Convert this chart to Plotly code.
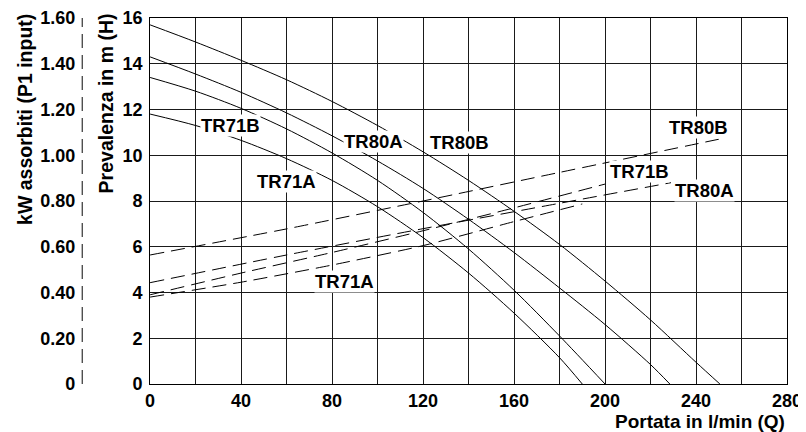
import plotly.graph_objects as go

# ---- Head curves H (m) vs Q (l/min)
q_tr71a = [0, 20, 40, 60, 80, 100, 120, 140, 160, 180, 190]
h_tr71a = [11.8, 11.3, 10.65, 9.85, 8.9, 7.75, 6.4, 4.85, 3.1, 1.15, 0]

q_tr71b = [0, 20, 40, 60, 80, 100, 120, 140, 160, 180, 200]
h_tr71b = [13.4, 12.8, 12.05, 11.15, 10.1, 8.9, 7.5, 5.9, 4.1, 2.1, 0]

q_tr80a = [0, 20, 40, 60, 80, 100, 120, 140, 160, 180, 200, 220, 228.5]
h_tr80a = [14.3, 13.55, 12.75, 11.85, 10.85, 9.75, 8.55, 7.2, 5.75, 4.2, 2.6, 0.85, 0]

q_tr80b = [0, 20, 40, 60, 80, 100, 120, 140, 160, 180, 200, 220, 240, 250.5]
h_tr80b = [15.7, 14.95, 14.15, 13.3, 12.35, 11.3, 10.15, 8.9, 7.55, 6.1, 4.5, 2.8, 0.95, 0]

# ---- Absorbed power kW (P1) vs Q
qp_tr80b = [0, 60, 120, 180, 250]
kw_tr80b = [0.564, 0.678, 0.80, 0.925, 1.07]
qp_tr80a = [0, 60, 120, 180, 229]
kw_tr80a = [0.443, 0.564, 0.679, 0.79, 0.88]
qp_tr71b = [0, 40, 80, 120, 160, 200]
kw_tr71b = [0.39, 0.485, 0.575, 0.67, 0.77, 0.874]
qp_tr71a = [0, 40, 80, 120, 160, 190]
kw_tr71a = [0.38, 0.445, 0.52, 0.605, 0.71, 0.787]

x_ticks = [0, 40, 80, 120, 160, 200, 240, 280]
h_ticks = [0, 2, 4, 6, 8, 10, 12, 14, 16]
kw_ticks = [0, 0.2, 0.4, 0.6, 0.8, 1.0, 1.2, 1.4, 1.6]
kw_ticktext = ["0", "0.20", "0.40", "0.60", "0.80", "1.00", "1.20", "1.40", "1.60"]

# labels: (text, Q, H)
labels = [
    ("TR71B", 35.4, 11.32),
    ("TR71A", 60.1, 8.84),
    ("TR80A", 98.0, 10.6),
    ("TR80B", 135.8, 10.54),
    ("TR71A", 85.6, 4.47),
    ("TR80B", 240.9, 11.22),
    ("TR71B", 215.1, 9.28),
    ("TR80A", 243.8, 8.48),
]

FONT = "Liberation Sans, Arial, sans-serif"
OFFX, OFFY = 11, 8
W, H = 806 - OFFX, 432 - OFFY
ML, MR, MT, MB = 0, 16, 18 - OFFY, 48
plot_w = W - ML - MR


def px(x):
    return (x - OFFX) / plot_w


def py(y):
    return (384 - y) / 366


x_dom0 = px(149)
kw_pos = px(80.7)

fig = go.Figure()

for q, h in [(q_tr71a, h_tr71a), (q_tr71b, h_tr71b), (q_tr80a, h_tr80a), (q_tr80b, h_tr80b)]:
    fig.add_trace(go.Scatter(x=q, y=h, mode="lines", line=dict(color="black", width=1, shape="spline", smoothing=0.8),
                             xaxis="x", yaxis="y", showlegend=False, hoverinfo="skip"))

for q, k in [(qp_tr80b, kw_tr80b), (qp_tr80a, kw_tr80a), (qp_tr71b, kw_tr71b), (qp_tr71a, kw_tr71a)]:
    fig.add_trace(go.Scatter(x=q, y=k, mode="lines",
                             line=dict(color="black", width=1, dash="14px,7px", shape="spline", smoothing=0.6),
                             xaxis="x", yaxis="y2", showlegend=False, hoverinfo="skip"))

for txt, q, h in labels:
    fig.add_annotation(x=q, y=h, xref="x", yref="y", text=txt, showarrow=False,
                       font=dict(family=FONT, size=18.5, color="black", weight="bold"),
                       bgcolor="white", borderpad=0)

# dashed kW axis line
fig.add_shape(type="line", xref="paper", yref="y2", x0=kw_pos, x1=kw_pos, y0=0, y1=1.63,
              line=dict(color="#333", width=1.2, dash="14px,7px"))

title_font = dict(family=FONT, size=19.5, color="black", weight="bold")
fig.add_annotation(x=px(105), y=py(103), xref="paper", yref="paper", text="Prevalenza in m (H)",
                   textangle=-90, showarrow=False, xanchor="center", yanchor="middle", font=title_font)
fig.add_annotation(x=px(23), y=py(119), xref="paper", yref="paper", text="kW assorbiti (P1 input)",
                   textangle=-90, showarrow=False, xanchor="center", yanchor="middle", font=title_font)
fig.add_annotation(x=px(790), y=py(421), xref="paper", yref="paper", text="Portata in l/min (Q)",
                   showarrow=False, xanchor="right", yanchor="middle",
                   font=dict(family=FONT, size=19, color="black", weight="bold"))

tick_font = dict(family=FONT, size=18, weight="bold")
grid = dict(showgrid=True, gridcolor="#1a1a1a", gridwidth=1.2)
fig.update_layout(
    width=W, height=H, margin=dict(l=ML, r=MR, t=MT, b=MB),
    plot_bgcolor="white", paper_bgcolor="white",
    font=dict(family=FONT, size=18, color="black"),
    xaxis=dict(domain=[x_dom0, 1], range=[0, 280], tickvals=x_ticks, ticks="",
               tickfont=tick_font,
               showline=True, linecolor="black", linewidth=1.2, mirror=True, zeroline=False,
               minor=dict(dtick=20, showgrid=True, gridcolor="#1a1a1a", gridwidth=1.2),
               **grid),
    yaxis=dict(range=[0, 16], tickvals=h_ticks, ticks="", anchor="x",
               tickfont=tick_font, ticklabelstandoff=3,
               showline=True, linecolor="black", linewidth=1.2, mirror=True, zeroline=False, **grid),
    yaxis2=dict(range=[0, 1.6], tickvals=kw_ticks, ticktext=kw_ticktext, overlaying="y", anchor="free",
                position=kw_pos, side="left", ticks="", showgrid=False, zeroline=False, showline=False,
                tickfont=tick_font, ticklabelstandoff=7),
)

fig.write_html("out.html")
